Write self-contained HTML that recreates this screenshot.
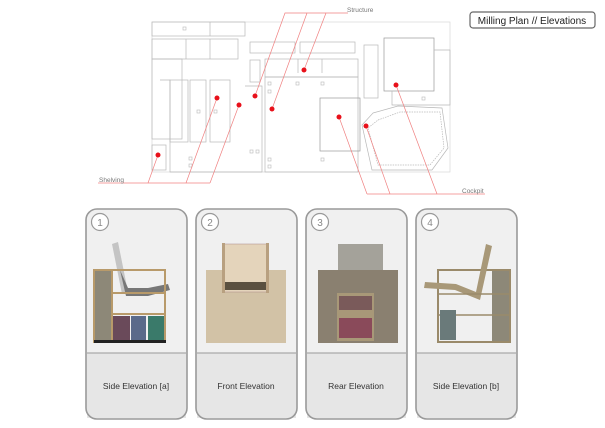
<!DOCTYPE html>
<html><head><meta charset="utf-8"><style>
html,body{margin:0;padding:0;background:#fff;width:605px;height:428px;overflow:hidden}
svg{display:block}
text{font-family:"Liberation Sans",sans-serif}
</style></head><body>
<svg width="605" height="428" viewBox="0 0 605 428" xmlns="http://www.w3.org/2000/svg">
<g fill="none" stroke="#b8b8b8" stroke-width="0.7">
<rect x="152" y="22" width="298" height="150" stroke="#d8d8d8"/>
<rect x="152" y="22" width="93" height="14"/>
<rect x="152" y="39" width="86" height="20"/>
<line x1="210" y1="22" x2="210" y2="36"/>
<line x1="186" y1="39" x2="186" y2="59"/><line x1="210" y1="39" x2="210" y2="59"/>
<rect x="152" y="59" width="30" height="80"/>
<rect x="152" y="145" width="14" height="25"/>
<rect x="170" y="80" width="18" height="62"/>
<rect x="190" y="80" width="16" height="62"/>
<rect x="210" y="80" width="20" height="62"/>
<polyline points="160,80 170,80 170,172 262,172 262,86 245,86"/>
<rect x="250" y="42" width="45" height="11"/>
<rect x="300" y="42" width="55" height="11"/>
<rect x="250" y="60" width="10" height="22"/>
<rect x="265" y="59" width="93" height="18"/>
<line x1="298" y1="59" x2="298" y2="73"/><line x1="322" y1="59" x2="322" y2="73"/>
<rect x="265" y="77" width="93" height="95"/>
<rect x="320" y="98" width="40" height="53" stroke="#999"/>
<rect x="364" y="45" width="14" height="53"/>
<rect x="384" y="38" width="50" height="53" stroke="#999"/>
<polyline points="434,50 450,50 450,105 392,105 392,91"/>
<polygon points="373,113 398,106 442,108 448,148 432,170 372,170 362,125" />
<polygon points="378,120 400,112 440,112 444,148 430,165 378,165 368,128" stroke-dasharray="1.5,1"/>
<g stroke-width="0.6">
<rect x="183" y="27" width="3" height="3"/><rect x="197" y="110" width="3" height="3"/><rect x="214" y="110" width="3" height="3"/>
<rect x="268" y="82" width="3" height="3"/><rect x="268" y="90" width="3" height="3"/><rect x="296" y="82" width="3" height="3"/><rect x="321" y="82" width="3" height="3"/>
<rect x="268" y="158" width="3" height="3"/><rect x="268" y="165" width="3" height="3"/><rect x="321" y="158" width="3" height="3"/>
<rect x="250" y="150" width="3" height="3"/><rect x="256" y="150" width="3" height="3"/><rect x="189" y="157" width="3" height="3"/><rect x="189" y="164" width="3" height="3"/>
<rect x="422" y="97" width="3" height="3"/>
</g>
</g>
<g stroke="#f08080" stroke-width="0.7" fill="none">
<polyline points="348,13 285,13 255,96"/>
<line x1="307" y1="13" x2="272" y2="109"/>
<line x1="326" y1="13" x2="304" y2="70"/>
<polyline points="98,183 210,183"/>
<line x1="148" y1="183" x2="158" y2="155"/>
<line x1="186" y1="183" x2="217" y2="98"/>
<line x1="210" y1="183" x2="239" y2="105"/>
<polyline points="367,194 485,194"/>
<line x1="367" y1="194" x2="339" y2="117"/>
<line x1="390" y1="194" x2="366" y2="126"/>
<line x1="437" y1="194" x2="396" y2="85"/>
</g>
<g fill="#e8101a">
<circle cx="158" cy="155" r="2.5"/><circle cx="217" cy="98" r="2.5"/><circle cx="239" cy="105" r="2.5"/>
<circle cx="255" cy="96" r="2.5"/><circle cx="272" cy="109" r="2.5"/><circle cx="304" cy="70" r="2.5"/>
<circle cx="339" cy="117" r="2.5"/><circle cx="366" cy="126" r="2.5"/><circle cx="396" cy="85" r="2.5"/>
</g>
<g font-size="6.5" fill="#777">
<text x="347" y="12">Structure</text>
<text x="99" y="182">Shelving</text>
<text x="462" y="193">Cockpit</text>
</g>
<rect x="470" y="12" width="125" height="16" rx="3" fill="#fff" stroke="#666" stroke-width="1.2"/>
<text x="532" y="24" font-size="10" text-anchor="middle" fill="#222">Milling Plan // Elevations</text>

<g>
<rect x="86" y="209" width="101" height="210" rx="11" fill="#f0f0f0"/>
<rect x="87" y="353" width="99" height="65" fill="#e6e6e6"/>
<rect x="86" y="209" width="101" height="210" rx="11" fill="none" stroke="#999" stroke-width="1.6"/>
<line x1="86" y1="353" x2="187" y2="353" stroke="#aaa" stroke-width="1.2"/>
<circle cx="100" cy="222" r="8.5" fill="#fff" stroke="#999" stroke-width="1.2"/>
<text x="100" y="226" font-size="10" fill="#888" text-anchor="middle">1</text>
<text x="136" y="389" font-size="8.5" fill="#333" text-anchor="middle">Side Elevation [a]</text>
</g>
<g transform="translate(110,0)">
<rect x="86" y="209" width="101" height="210" rx="11" fill="#f0f0f0"/>
<rect x="87" y="353" width="99" height="65" fill="#e6e6e6"/>
<rect x="86" y="209" width="101" height="210" rx="11" fill="none" stroke="#999" stroke-width="1.6"/>
<line x1="86" y1="353" x2="187" y2="353" stroke="#aaa" stroke-width="1.2"/>
<circle cx="100" cy="222" r="8.5" fill="#fff" stroke="#999" stroke-width="1.2"/>
<text x="100" y="226" font-size="10" fill="#888" text-anchor="middle">2</text>
<text x="136" y="389" font-size="8.5" fill="#333" text-anchor="middle">Front Elevation</text>
</g>
<g transform="translate(220,0)">
<rect x="86" y="209" width="101" height="210" rx="11" fill="#f0f0f0"/>
<rect x="87" y="353" width="99" height="65" fill="#e6e6e6"/>
<rect x="86" y="209" width="101" height="210" rx="11" fill="none" stroke="#999" stroke-width="1.6"/>
<line x1="86" y1="353" x2="187" y2="353" stroke="#aaa" stroke-width="1.2"/>
<circle cx="100" cy="222" r="8.5" fill="#fff" stroke="#999" stroke-width="1.2"/>
<text x="100" y="226" font-size="10" fill="#888" text-anchor="middle">3</text>
<text x="136" y="389" font-size="8.5" fill="#333" text-anchor="middle">Rear Elevation</text>
</g>
<g transform="translate(330,0)">
<rect x="86" y="209" width="101" height="210" rx="11" fill="#f0f0f0"/>
<rect x="87" y="353" width="99" height="65" fill="#e6e6e6"/>
<rect x="86" y="209" width="101" height="210" rx="11" fill="none" stroke="#999" stroke-width="1.6"/>
<line x1="86" y1="353" x2="187" y2="353" stroke="#aaa" stroke-width="1.2"/>
<circle cx="100" cy="222" r="8.5" fill="#fff" stroke="#999" stroke-width="1.2"/>
<text x="100" y="226" font-size="10" fill="#888" text-anchor="middle">4</text>
<text x="136" y="389" font-size="8.5" fill="#333" text-anchor="middle">Side Elevation [b]</text>
</g>

<g>
<polygon points="112,244 118,242 128,292 122,294" fill="#c4c4c4"/>
<polygon points="120,270 128,288 148,288 168,284 170,290 148,296 126,296" fill="#777"/>
<rect x="94" y="270" width="71" height="72" fill="none" stroke="#b89a6a" stroke-width="2"/>
<rect x="95" y="271" width="16" height="70" fill="#8d8878"/>
<line x1="112" y1="270" x2="112" y2="342" stroke="#b89a6a" stroke-width="2"/>
<line x1="112" y1="293" x2="165" y2="293" stroke="#b89a6a" stroke-width="2"/>
<line x1="112" y1="314" x2="165" y2="314" stroke="#b89a6a" stroke-width="2"/>
<rect x="113" y="316" width="17" height="24" fill="#6a4a5a"/>
<rect x="131" y="316" width="15" height="24" fill="#5a6a8a"/>
<rect x="148" y="316" width="16" height="24" fill="#3a7a6a"/>
<rect x="94" y="340" width="72" height="3" fill="#222"/>
</g>
<g>
<rect x="206" y="270" width="80" height="73" fill="#d2c2a6"/>
<rect x="223" y="244" width="45" height="48" fill="#e4d4bb" stroke="#a88" stroke-width="0.5"/>
<rect x="224" y="282" width="43" height="8" fill="#5a5040"/>
<rect x="222" y="243" width="3" height="50" fill="#b8a080"/><rect x="266" y="243" width="3" height="50" fill="#b8a080"/>
</g>
<g>
<rect x="338" y="244" width="45" height="30" fill="#a4a29a"/>
<rect x="318" y="270" width="80" height="73" fill="#8a8070"/>
<rect x="337" y="293" width="37" height="48" fill="#a89878"/>
<rect x="339" y="296" width="33" height="14" fill="#7a5a5a"/>
<rect x="339" y="318" width="33" height="20" fill="#8a4a5a"/>
</g>
<g>
<rect x="438" y="270" width="72" height="72" fill="none" stroke="#9a8a6a" stroke-width="2"/>
<rect x="492" y="271" width="17" height="70" fill="#8d8878"/>
<polygon points="486,244 492,246 480,300 455,290 424,288 425,282 456,284 476,292" fill="#a89878"/>
<line x1="438" y1="294" x2="510" y2="294" stroke="#9a8a6a" stroke-width="1.5"/>
<line x1="438" y1="315" x2="510" y2="315" stroke="#9a8a6a" stroke-width="1.5"/>
<rect x="440" y="310" width="16" height="30" fill="#6a7a7a"/>
</g>
</svg>
</body></html>
